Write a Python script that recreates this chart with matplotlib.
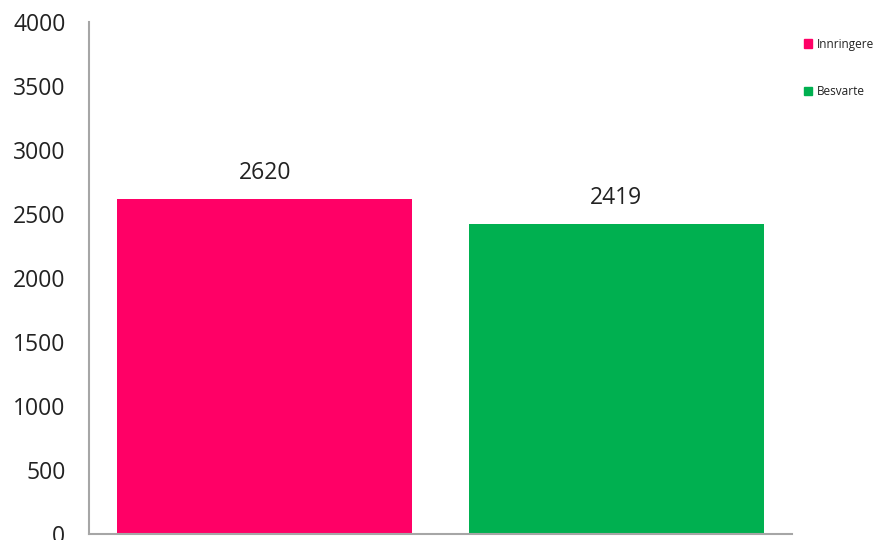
import matplotlib
matplotlib.use("Agg")
import matplotlib.pyplot as plt
from matplotlib.patches import Patch

categories = ["Innringere", "Besvarte"]
values = [2620, 2419]
colors = ["#FF0066", "#00B050"]
yticks = [0, 500, 1000, 1500, 2000, 2500, 3000, 3500, 4000]

plt.rcParams['font.family'] = ['Open Sans', 'DejaVu Sans']

fig = plt.figure(figsize=(8.82, 5.4), dpi=100)
ax = fig.add_axes([89/882, 6/540, 703/882, 512/540])

x = list(range(len(categories)))
bars = ax.bar(x, values, width=0.84, color=colors)
ax.set_xlim(-0.5, 1.5)
ax.set_ylim(0, 4000)
ax.set_yticks(yticks)
ax.set_yticklabels([str(t) for t in yticks], fontsize=16.5, color="#222222")
ax.set_xticks([])
ax.tick_params(axis='y', length=0, pad=17)
for s in ["top", "right"]:
    ax.spines[s].set_visible(False)
for s in ["left", "bottom"]:
    ax.spines[s].set_color("#A6A6A6")
    ax.spines[s].set_linewidth(1.5)

for b, v in zip(bars, values):
    ax.annotate(str(v), (b.get_x() + b.get_width()/2, v), xytext=(0, 10),
                textcoords="offset points", ha="center", va="bottom",
                fontsize=16.5, color="#222222")

handles = [Patch(color=c, label=l) for c, l in zip(colors, categories)]
fig.legend(handles=handles, loc="upper left", bbox_to_anchor=(793/882, 1 - 27/540),
           frameon=False, fontsize=8.5, handlelength=0.7, handleheight=0.7,
           handletextpad=0.4, labelspacing=2.95, labelcolor="#222222")

fig.savefig("out.png", dpi=100)
